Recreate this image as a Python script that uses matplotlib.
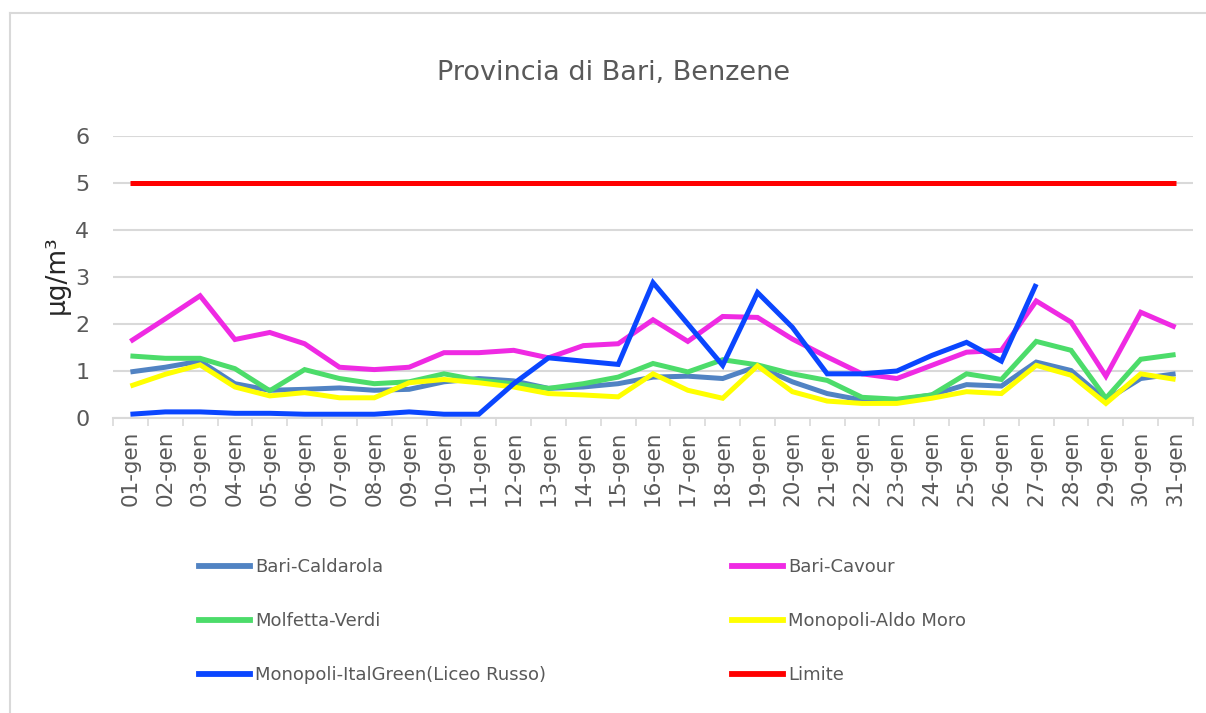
import matplotlib
matplotlib.use("Agg")
import matplotlib.pyplot as plt
from matplotlib import font_manager
from matplotlib.lines import Line2D

# font: narrow sans like the reference, fall back if missing
names = set(f.name for f in font_manager.fontManager.ttflist)
if "Liberation Sans Narrow" in names:
    FONT = "Liberation Sans Narrow"
    k = 1.25
else:
    FONT = "DejaVu Sans"
    k = 1.0
plt.rcParams['font.family'] = [FONT, 'DejaVu Sans']

days = ["%02d-gen" % d for d in range(1, 32)]

bari_caldarola = [0.98, 1.08, 1.21, 0.73, 0.59, 0.61, 0.64, 0.59, 0.61, 0.77,
                  0.84, 0.79, 0.63, 0.66, 0.73, 0.87, 0.89, 0.84, 1.10, 0.77,
                  0.52, 0.38, 0.38, 0.49, 0.71, 0.68, 1.19, 1.01, 0.38, 0.84, 0.94]
bari_cavour = [1.63, 2.11, 2.60, 1.67, 1.82, 1.58, 1.08, 1.03, 1.08, 1.39,
               1.39, 1.44, 1.28, 1.54, 1.58, 2.09, 1.63, 2.16, 2.14, 1.68,
               1.30, 0.94, 0.84, 1.12, 1.40, 1.44, 2.49, 2.04, 0.89, 2.25, 1.93]
molfetta_verdi = [1.32, 1.27, 1.27, 1.05, 0.58, 1.03, 0.84, 0.73, 0.77, 0.94,
                  0.80, 0.73, 0.63, 0.73, 0.87, 1.16, 0.98, 1.24, 1.13, 0.94,
                  0.80, 0.44, 0.40, 0.49, 0.94, 0.82, 1.63, 1.44, 0.42, 1.25, 1.35]
monopoli_aldo_moro = [0.68, 0.93, 1.13, 0.66, 0.47, 0.54, 0.43, 0.43, 0.75, 0.82,
                      0.75, 0.66, 0.52, 0.49, 0.45, 0.94, 0.59, 0.42, 1.11, 0.56,
                      0.36, 0.31, 0.31, 0.42, 0.56, 0.52, 1.12, 0.91, 0.31, 0.94, 0.82]
monopoli_italgreen = [0.08, 0.13, 0.13, 0.10, 0.10, 0.08, 0.08, 0.08, 0.13, 0.08,
                      0.08, 0.73, 1.28, 1.21, 1.14, 2.88, 2.00, 1.12, 2.67, 1.93,
                      0.94, 0.94, 1.00, 1.33, 1.61, 1.21, 2.85,
                      None, None, None, None]
limite = [5] * 31

series = [
    ("Bari-Caldarola", bari_caldarola, "#5183c3"),
    ("Bari-Cavour", bari_cavour, "#ef2ae3"),
    ("Molfetta-Verdi", molfetta_verdi, "#4cdc6a"),
    ("Monopoli-Aldo Moro", monopoli_aldo_moro, "#ffff00"),
    ("Monopoli-ItalGreen(Liceo Russo)", monopoli_italgreen, "#0a46ff"),
    ("Limite", limite, "#ff0000"),
]

fig = plt.figure(figsize=(12.06, 7.13), dpi=100)
ax = fig.add_axes([113 / 1206, 1 - 418 / 713, (1193 - 113) / 1206, (418 - 136) / 713])

x = list(range(len(days)))
handles = {}
for name, vals, col in series:
    y = [float('nan') if v is None else v for v in vals]
    ax.plot(x, y, color=col, lw=3.6, solid_capstyle='butt', solid_joinstyle='miter')
    handles[name] = Line2D([], [], color=col, lw=4.2)

ax.set_xlim(-0.5, 30.5)
ax.set_ylim(0, 6)
ax.set_yticks(range(0, 7))
ax.yaxis.grid(True, color="#d9d9d9", lw=1.5)
ax.set_axisbelow(True)
for s in ["top", "right", "left"]:
    ax.spines[s].set_visible(False)
ax.spines["bottom"].set_color("#d9d9d9")
ax.spines["bottom"].set_linewidth(1.5)

ax.set_xticks(x)
ax.set_xticklabels(days, rotation=90)
ax.set_xticks([i - 0.5 for i in range(32)], minor=True)
ax.tick_params(axis='x', which='major', length=0, pad=9, labelsize=15.5 * k, labelcolor="#595959")
ax.tick_params(axis='x', which='minor', length=6, width=1.2, color="#d9d9d9")
ax.tick_params(axis='y', length=0, pad=17, labelsize=16 * k, labelcolor="#595959")

ax.set_ylabel("µg/m³", fontsize=19 * k, color="#262626")
ax.yaxis.set_label_coords(-43 / 1080, 0.51)

fig.text(614 / 1206, 1 - 73 / 713, "Provincia di Bari, Benzene", ha='center', va='center',
         fontsize=19.5 * k, color="#595959")

col1 = ["Bari-Caldarola", "Molfetta-Verdi", "Monopoli-ItalGreen(Liceo Russo)"]
col2 = ["Bari-Cavour", "Monopoli-Aldo Moro", "Limite"]
for names_, x0 in [(col1, 199), (col2, 732)]:
    fig.legend([handles[n] for n in names_], names_, loc='center left',
               bbox_to_anchor=(x0 / 1206, 1 - 621 / 713), frameon=False,
               fontsize=13 * k, labelcolor="#595959", borderpad=0, borderaxespad=0,
               handlelength=2.8, handletextpad=0.3, labelspacing=2.0)

# thin border on top and left like the original screenshot
fig.add_artist(Line2D([10 / 1206, 10 / 1206], [0, 1 - 13 / 713], color="#d9d9d9", lw=1.5))
fig.add_artist(Line2D([10 / 1206, 1], [1 - 13 / 713, 1 - 13 / 713], color="#d9d9d9", lw=1.5))

fig.savefig("out.png", dpi=100)
